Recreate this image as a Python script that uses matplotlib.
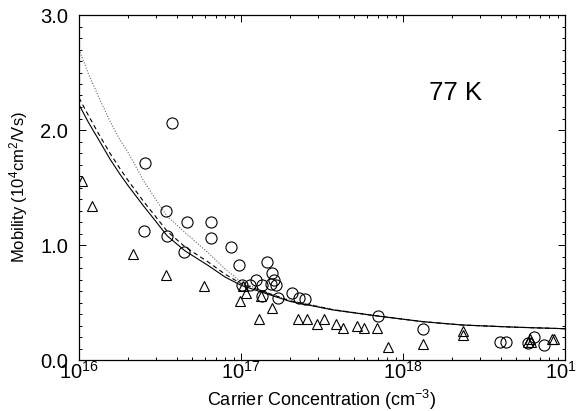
import matplotlib
matplotlib.use("Agg")
import matplotlib.pyplot as plt
from matplotlib.ticker import LogLocator, MultipleLocator, FixedLocator, NullFormatter

plt.rcParams['font.family'] = ['Liberation Sans', 'DejaVu Sans']
plt.rcParams['mathtext.fontset'] = 'custom'
plt.rcParams['mathtext.rm'] = 'Liberation Sans'
plt.rcParams['mathtext.it'] = 'Liberation Sans:italic'
plt.rcParams['mathtext.bf'] = 'Liberation Sans:bold'

# ---- data ----
circle_N = [3.75e16, 2.54e16, 3.43e16, 2.51e16, 3.51e16, 4.66e16, 6.56e16, 6.5e16,
            4.47e16, 8.63e16, 9.77e16, 1.44e17, 1.55e17, 1.60e17, 1.64e17, 1.53e17,
            1.24e17, 1.34e17, 1.14e17, 1.02e17, 1.34e17, 1.70e17, 2.05e17, 2.28e17,
            2.49e17, 7.04e17, 1.33e18, 3.97e18, 4.30e18, 6.47e18, 5.94e18, 7.38e18]
circle_mu = [2.06, 1.71, 1.30, 1.12, 1.08, 1.20, 1.20, 1.06,
             0.94, 0.98, 0.83, 0.85, 0.76, 0.70, 0.65, 0.66,
             0.70, 0.65, 0.65, 0.65, 0.56, 0.54, 0.58, 0.54,
             0.53, 0.38, 0.27, 0.16, 0.156, 0.20, 0.15, 0.13]

tri_N = [1.05e16, 1.2e16, 2.15e16, 3.43e16, 5.91e16, 9.8e16, 1.03e17, 1.08e17,
         1.29e17, 1.55e17, 1.33e17, 2.26e17, 2.57e17, 2.93e17, 3.27e17, 3.84e17,
         4.28e17, 5.23e17, 5.77e17, 6.88e17, 8.11e17, 1.33e18, 2.33e18, 2.33e18,
         6.08e18, 6.2e18, 5.94e18, 8.27e18, 8.6e18]
tri_mu = [1.56, 1.34, 0.92, 0.74, 0.64, 0.516, 0.646, 0.585,
          0.356, 0.45, 0.556, 0.36, 0.354, 0.31, 0.354, 0.31,
          0.276, 0.30, 0.276, 0.28, 0.116, 0.137, 0.255, 0.217,
          0.18, 0.16, 0.16, 0.18, 0.18]

curve_N = [1.0e16, 1.15e16, 1.33e16, 1.55e16, 1.78e16, 2.0e16, 2.5e16, 3.0e16, 3.5e16,
           4.5e16, 6.3e16, 8.0e16, 1.0e17, 1.41e17, 2.0e17, 3.7e17, 6.9e17, 1.33e18,
           2.33e18, 5.0e18, 1.0e19]
solid_mu = [2.22, 2.06, 1.91, 1.75, 1.62, 1.52, 1.34, 1.20, 1.08,
            0.95, 0.82, 0.72, 0.65, 0.58, 0.51, 0.435, 0.383, 0.333,
            0.304, 0.285, 0.272]
dashed_mu = [2.28, 2.12, 1.96, 1.80, 1.67, 1.565, 1.38, 1.24, 1.12,
             0.985, 0.85, 0.745, 0.665, 0.59, 0.515, 0.437, 0.384, 0.333,
             0.304, 0.285, 0.272]
dotted_mu = [2.70, 2.48, 2.28, 2.08, 1.92, 1.81, 1.56, 1.39, 1.25,
             1.11, 0.93, 0.79, 0.68, 0.59, 0.52, 0.44, 0.385, 0.334,
             0.305, 0.285, 0.272]

x_ticks = [1e16, 1e17, 1e18, 1e19]
y_ticks = [0.0, 1.0, 2.0, 3.0]
y_ticklabels = ["0.0", "1.0", "2.0", "3.0"]

fig = plt.figure(figsize=(5.76, 4.11), dpi=100)
ax = fig.add_axes([79/576, 1 - 360/411, (565 - 79)/576, (360 - 15)/411])

ax.plot(curve_N, dotted_mu, linestyle=(0, (1, 1.5)), color='#666666', lw=0.8)
ax.plot(curve_N, dashed_mu, linestyle=(0, (4, 3)), color='black', lw=0.8)
ax.plot(curve_N, solid_mu, linestyle='-', color='black', lw=0.8)

ax.plot(circle_N, circle_mu, linestyle='none', marker='o', ms=8,
        mfc='none', mec='black', mew=0.8)
ax.plot(tri_N, tri_mu, linestyle='none', marker='^', ms=7.5,
        mfc='none', mec='black', mew=0.8)

ax.set_xscale('log')
ax.set_xlim(1e16, 1e19)
ax.set_ylim(0, 3.0)
ax.xaxis.set_major_locator(FixedLocator(x_ticks))
ax.xaxis.set_minor_locator(LogLocator(base=10, subs=range(2, 10)))
ax.xaxis.set_minor_formatter(NullFormatter())
ax.set_yticks(y_ticks)
ax.set_yticklabels(y_ticklabels)
ax.yaxis.set_minor_locator(MultipleLocator(0.1))

ax.tick_params(which='both', direction='in', top=True, right=True, width=0.7)
ax.tick_params(which='major', length=5)
ax.tick_params(which='minor', length=2.5)
ax.tick_params(axis='y', which='major', labelsize=14.5, pad=8)
ax.tick_params(axis='x', which='major', labelsize=14.5, pad=1)
for s in ax.spines.values():
    s.set_linewidth(0.9)

ax.set_xlabel("Carrier Concentration (cm$^{-3}$)", fontsize=13, labelpad=3)
ax.set_ylabel("Mobility (10$^{4}$cm$^{2}$/Vs)", fontsize=12, labelpad=7)

ax.text(2.1e18, 2.32, "77 K", fontsize=18.5, ha='center', va='center')

fig.savefig("out.png", dpi=100)
